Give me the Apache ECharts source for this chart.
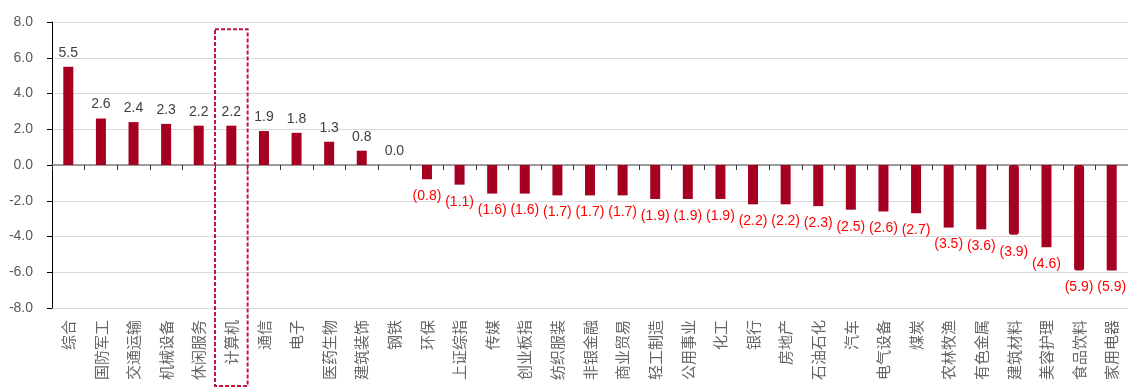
<!DOCTYPE html>
<html>
<head>
<meta charset="utf-8">
<script src="https://cdn.jsdelivr.net/npm/echarts@6/dist/echarts.min.js"></script>
<style>
  html, body { margin: 0; padding: 0; background: #fff; }
  #chart { width: 1128px; height: 387px; }
</style>
</head>
<body>
<div id="chart"></div>
<script>
// Industry returns (%), sorted from best to worst
const categories = [
  '综合', '国防军工', '交通运输', '机械设备', '休闲服务', '计算机', '通信', '电子',
  '医药生物', '建筑装饰', '钢铁', '环保', '上证综指', '传媒', '创业板指', '纺织服装',
  '非银金融', '商业贸易', '轻工制造', '公用事业', '化工', '银行', '房地产', '石油石化',
  '汽车', '电气设备', '煤炭', '农林牧渔', '有色金属', '建筑材料', '美容护理', '食品饮料',
  '家用电器'
];
const values = [
  5.5, 2.6, 2.4, 2.3, 2.2, 2.2, 1.9, 1.8,
  1.3, 0.8, 0.0, -0.8, -1.1, -1.6, -1.6, -1.7,
  -1.7, -1.7, -1.9, -1.9, -1.9, -2.2, -2.2, -2.3,
  -2.5, -2.6, -2.7, -3.5, -3.6, -3.9, -4.6, -5.9,
  -5.9
];
const yMin = -8;
const yMax = 8;
const yStep = 2;
// Category framed by the dashed box, and the value where the box's top edge sits
const highlighted = '计算机';
const boxTopValue = 7.6;
// Bars drawn with a slightly heavier outline
const heavyBars = ['建筑材料', '食品饮料'];

const BAR = '#a50021';
const NUM_FONT = '"Liberation Sans", Arial, sans-serif';
const CJK_FONT = '"Noto Sans CJK SC", sans-serif';

const fmt = v => v < 0 ? '(' + Math.abs(v).toFixed(1) + ')' : v.toFixed(1);

const barData = values.map((v, i) => {
  const neg = v < 0;
  const item = {
    value: v,
    label: {
      position: neg ? 'bottom' : 'top',
      distance: neg ? 10 : 7,
      color: neg ? '#ff0000' : '#404040'
    }
  };
  if (heavyBars.includes(categories[i])) {
    item.itemStyle = { borderColor: BAR, borderWidth: 1.5, borderRadius: 2 };
  }
  return item;
});

const chart = echarts.init(document.getElementById('chart'), null, { renderer: 'canvas' });

chart.setOption({
  animation: false,
  backgroundColor: '#ffffff',
  grid: { left: 52, top: 22, width: 1078, bottom: 79, containLabel: false },
  xAxis: [
    {
      // axis line through zero with a tick between every pair of categories
      type: 'category',
      data: categories,
      axisLine: { onZero: true, lineStyle: { color: '#808080', width: 1.5 } },
      axisTick: { show: true, interval: 0, length: 5, lineStyle: { color: '#333333', width: 1 } },
      axisLabel: { show: false },
      splitLine: { show: false }
    },
    {
      // category names along the bottom, turned upright
      type: 'category',
      data: categories,
      position: 'bottom',
      axisLine: { show: false, onZero: false },
      axisTick: { show: false },
      axisLabel: {
        rotate: 90,
        margin: 12,
        interval: 0,
        fontFamily: CJK_FONT,
        fontSize: 15,
        color: '#666666'
      },
      splitLine: { show: false }
    }
  ],
  yAxis: {
    type: 'value',
    min: yMin,
    max: yMax,
    interval: yStep,
    axisLine: { show: true, lineStyle: { color: '#000000', width: 1 } },
    axisTick: { show: true, length: 5, lineStyle: { color: '#000000' } },
    axisLabel: {
      margin: 19,
      fontFamily: NUM_FONT,
      fontSize: 14,
      color: '#595959',
      formatter: v => v.toFixed(1)
    },
    splitLine: { show: true, lineStyle: { color: '#d9d9d9', width: 1 } }
  },
  series: [{
    type: 'bar',
    xAxisIndex: 0,
    data: barData,
    barWidth: 10,
    itemStyle: { color: BAR },
    label: {
      show: true,
      fontFamily: NUM_FONT,
      fontSize: 14,
      formatter: p => fmt(p.value)
    }
  }]
});

// Dashed frame around the highlighted category, from its band edges down past the labels
function drawFrame() {
  const idx = categories.indexOf(highlighted);
  const c0 = chart.convertToPixel({ xAxisIndex: 0 }, categories[0]);
  const c1 = chart.convertToPixel({ xAxisIndex: 0 }, categories[1]);
  const band = c1 - c0;
  const cx = chart.convertToPixel({ xAxisIndex: 0 }, categories[idx]);
  const top = chart.convertToPixel({ yAxisIndex: 0 }, boxTopValue);
  const bottom = chart.getHeight() - 1;
  chart.setOption({
    graphic: [{
      type: 'rect',
      z: 100,
      shape: { x: cx - band / 2, y: top, width: band, height: bottom - top },
      style: { fill: 'none', stroke: '#c0143c', lineWidth: 2, lineDash: [4, 2] }
    }]
  });
}
drawFrame();
</script>
</body>
</html>
